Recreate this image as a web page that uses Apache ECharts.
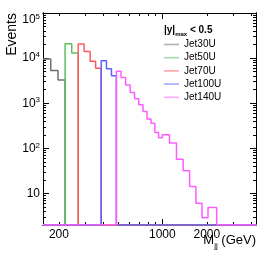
<!DOCTYPE html>
<html>
<head>
<meta charset="utf-8">
<script src="https://cdn.jsdelivr.net/npm/echarts@6/dist/echarts.min.js"></script>
<style>html,body{margin:0;padding:0;background:#fff;}#c{width:270px;height:259px;}</style>
</head>
<body>
<div id="c"></div>
<script>
// ---- data ----
const binEdges = [156,176,197,220,244,270,296,325,354,386,419,453,489,526,565,606,649,693,740,788,838,890,944,1000,1058,1118,1181,1246,1313,1383,1455,1530,1607,1687,1770,1856,1945,2037,2132,2231,2332,2438,2546,2659,2775,2895,3019,3147,3279,3416,3558,3704,3854,4010,4171,4337];
const seriesNames = ['Jet30U','Jet50U','Jet70U','Jet100U','Jet140U'];
const firstEdges = [156, 220, 270, 386, 489];
const jet30U = [9500, 5300, 3270];
const jet50U = [20700, 13000];
const jet70U = [20500, 14100, 8500, 6000];
const jet100U = [8700, 5800, 4070];
const jet140U = [5100, 3730, 2530, 1730, 1250, 920, 653, 450, 361, 225, 172, 200, 200, 131, 131, 57, 57, 32, 32, 14.3, 14.3, 6.1, 6.1, 2.9, 2.9, 4.9, 4.9, 4.9];
const xLabelValues = [200, 1000, 2000];
const xMinorTicks = [200,300,400,500,600,700,800,900,2000,3000,4000];
const xMajorTicks = [1000];
const yLabelValues = [10, 100, 1000, 10000, 100000];
const yMajorTicks = [10, 100, 1000, 10000, 100000];
const yMinorTicks = [2,3,4,5,6,7,8,9,20,30,40,50,60,70,80,90,200,300,400,500,600,700,800,900,2000,3000,4000,5000,6000,7000,8000,9000,20000,30000,40000,50000,60000,70000,80000,90000];
const xMin = 156, xMax = 4300, yMin = 2, yMax = 100000;

// ---- styles ----
const colors = ['#707070', '#5cc05c', '#ff5a5a', '#6060ff', '#ff5cff'];
const FONT = 'Liberation Sans, Arial, Helvetica, sans-serif';
const lg = Math.log10;

const allCounts = [jet30U, jet50U, jet70U, jet100U, jet140U];
function buildSeriesData(counts, firstEdge) {
  const start = binEdges.indexOf(firstEdge);
  const nb = binEdges.length - 1;
  const pts = [];
  let last = yMin;
  for (let i = 0; i < nb; i++) {
    const k = i - start;
    const c = (k >= 0 && k < counts.length) ? counts[k] : 0;
    last = Math.max(c, yMin);
    pts.push([lg(binEdges[i]), lg(last)]);
  }
  pts.push([lg(binEdges[nb]), lg(last)]);
  return pts;
}

function xAxisDef(pos, ticks, len, labels) {
  return {
    type: 'value', position: pos, min: lg(xMin), max: lg(xMax),
    splitLine: {show: false},
    axisLine: {show: true, onZero: false, lineStyle: {color: '#000', width: 1}},
    axisTick: {show: true, inside: true, length: len, customValues: ticks.map(lg), lineStyle: {color: '#000', width: 1}},
    axisLabel: labels ? {
      show: true, customValues: labels.map(lg), margin: 4,
      color: '#000', fontSize: 12, fontFamily: FONT,
      formatter: v => String(Math.round(Math.pow(10, v)))
    } : {show: false}
  };
}
function yAxisDef(pos, ticks, len, labels) {
  return {
    type: 'value', position: pos, min: lg(yMin), max: lg(yMax),
    splitLine: {show: false},
    axisLine: {show: true, onZero: false, lineStyle: {color: '#000', width: 1}},
    axisTick: {show: true, inside: true, length: len, customValues: ticks.map(lg), lineStyle: {color: '#000', width: 1}},
    axisLabel: labels ? {
      show: true, customValues: labels.map(lg), margin: 3,
      color: '#000', fontFamily: FONT,
      verticalAlignMaxLabel: 'top',
      formatter: v => {
        const e = Math.round(v);
        return e === 1 ? '{b|10}' : '{b|10}{s|' + e + '}';
      },
      rich: {
        b: {fontSize: 12, fontFamily: FONT, color: '#000', lineHeight: 14},
        s: {fontSize: 8, fontFamily: FONT, color: '#000', verticalAlign: 'top', lineHeight: 10}
      }
    } : {show: false}
  };
}

const chart = echarts.init(document.getElementById('c'), null, {renderer: 'canvas'});
chart.setOption({
  animation: false,
  backgroundColor: '#fff',
  grid: {left: 43, right: 14, top: 13, bottom: 34, containLabel: false, outerBoundsMode: 'none'},
  xAxis: [
    xAxisDef('bottom', xMinorTicks, 3, xLabelValues),
    xAxisDef('bottom', xMajorTicks, 6, null),
    xAxisDef('top', xMinorTicks, 3, null),
    xAxisDef('top', xMajorTicks, 6, null)
  ],
  yAxis: [
    yAxisDef('left', yMinorTicks, 3, yLabelValues),
    yAxisDef('left', yMajorTicks, 6, null),
    yAxisDef('right', yMinorTicks, 3, null),
    yAxisDef('right', yMajorTicks, 6, null)
  ],
  title: {
    left: 164, top: 23, padding: 0,
    text: '{a||y|}{s|max}{a| < 0.5}',
    textStyle: {
      rich: {
        a: {fontSize: 10, fontWeight: 'bold', fontFamily: FONT, color: '#000', lineHeight: 14},
        s: {fontSize: 6, fontWeight: 'bold', fontFamily: FONT, color: '#000', verticalAlign: 'bottom', lineHeight: 8}
      }
    }
  },
  legend: {
    orient: 'vertical', left: 164, top: 38.5, padding: 0,
    itemWidth: 15, itemHeight: 1.6, itemGap: 1.2,
    icon: 'rect',
    itemStyle: {opacity: 0.55},
    textStyle: {fontSize: 10, fontFamily: FONT, color: '#000', lineHeight: 12},
    data: seriesNames.map(n => ({name: n, icon: 'rect'}))
  },
  graphic: [
    {type: 'text', left: 5, top: 13, rotation: Math.PI / 2,
      style: {text: 'Events', font: '14px ' + FONT, fill: '#000'}},
    {type: 'text', right: 14, top: 234,
      style: {
        text: '{m|M}{j|jj}{m| (GeV)}',
        rich: {
          m: {fontSize: 13, fontFamily: FONT, fill: '#000', lineHeight: 18},
          j: {fontSize: 8, fontFamily: FONT, fill: '#000', verticalAlign: 'bottom', lineHeight: 8}
        }
      }}
  ],
  series: seriesNames.map((n, i) => ({
    name: n, type: 'line', step: 'end', symbol: 'none', showSymbol: false,
    xAxisIndex: 0, yAxisIndex: 0, clip: true,
    data: buildSeriesData(allCounts[i], firstEdges[i]),
    lineStyle: {color: colors[i], width: 1.5},
    itemStyle: {color: colors[i]}
  }))
});
</script>
</body>
</html>
